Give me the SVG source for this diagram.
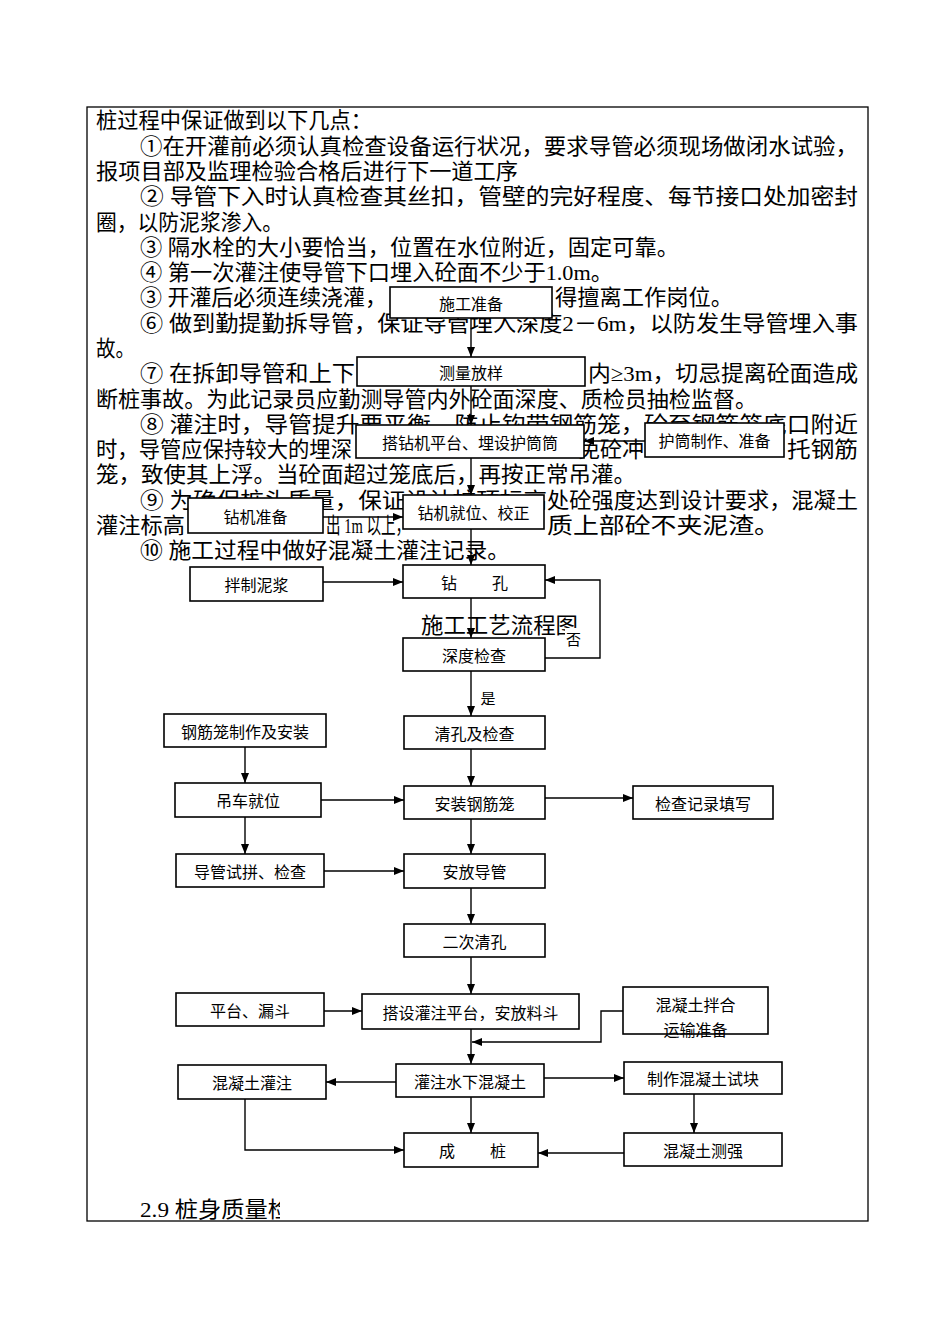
<svg xmlns="http://www.w3.org/2000/svg" width="950" height="1344" viewBox="0 0 950 1344">
<defs>
<marker id="ah" markerUnits="userSpaceOnUse" markerWidth="10" markerHeight="8" refX="10" refY="4" orient="auto">
<path d="M0,0 L10,4 L0,8 z" fill="#000"/>
</marker>
<clipPath id="clipEnd"><rect x="0" y="1190" width="280" height="40"/></clipPath>
</defs>
<style>
.t{font-family:"Liberation Serif","Noto Sans CJK SC",serif;font-size:22px;fill:#000}
.b{fill:#fff;stroke:#000;stroke-width:1.6}
.bl{font-family:"Noto Sans CJK SC",sans-serif;font-size:16px;fill:#000;text-anchor:middle;dominant-baseline:central}
.c{stroke:#000;stroke-width:1.4;fill:none;marker-end:url(#ah)}
.lab{font-family:"Noto Sans CJK SC",sans-serif;font-size:15px;fill:#000;text-anchor:middle;dominant-baseline:central}
</style>
<rect width="950" height="1344" fill="#fff"/>
<rect x="87" y="107" width="781" height="1114" fill="none" stroke="#000" stroke-width="1.3"/>

<g id="paragraph">
<text class="t" x="96" y="128" textLength="276" lengthAdjust="spacingAndGlyphs">桩过程中保证做到以下几点：</text>
<text class="t" x="140" y="153.5" textLength="718" lengthAdjust="spacingAndGlyphs">①在开灌前必须认真检查设备运行状况，要求导管必须现场做闭水试验，</text>
<text class="t" x="96" y="179" textLength="422" lengthAdjust="spacingAndGlyphs">报项目部及监理检验合格后进行下一道工序</text>
<text class="t" x="140" y="204" textLength="718" lengthAdjust="spacingAndGlyphs">② 导管下入时认真检查其丝扣，管壁的完好程度、每节接口处加密封</text>
<text class="t" x="96" y="229.5" textLength="187" lengthAdjust="spacingAndGlyphs">圈，以防泥浆渗入。</text>
<text class="t" x="140" y="254.5" textLength="539" lengthAdjust="spacingAndGlyphs">③ 隔水栓的大小要恰当，位置在水位附近，固定可靠。</text>
<text class="t" x="140" y="280" textLength="473" lengthAdjust="spacingAndGlyphs">④ 第一次灌注使导管下口埋入砼面不少于1.0m。</text>
<text class="t" x="140" y="305" textLength="247" lengthAdjust="spacingAndGlyphs">③ 开灌后必须连续浇灌，</text>
<text class="t" x="555" y="305" textLength="178" lengthAdjust="spacingAndGlyphs">得擅离工作岗位。</text>
<text class="t" x="140" y="330.5" textLength="718" lengthAdjust="spacingAndGlyphs">⑥ 做到勤提勤拆导管，保证导管埋入深度2－6m，以防发生导管埋入事</text>
<text class="t" x="96" y="355.5" textLength="39" lengthAdjust="spacingAndGlyphs">故。</text>
<text class="t" x="140" y="381" textLength="215" lengthAdjust="spacingAndGlyphs">⑦ 在拆卸导管和上下</text>
<text class="t" x="588" y="381" textLength="270" lengthAdjust="spacingAndGlyphs">内≥3m，切忌提离砼面造成</text>
<text class="t" x="96" y="406.5" textLength="661" lengthAdjust="spacingAndGlyphs">断桩事故。为此记录员应勤测导管内外砼面深度、质检员抽检监督。</text>
<text class="t" x="140" y="431.5" textLength="718" lengthAdjust="spacingAndGlyphs">⑧ 灌注时，导管提升要平衡，防止钩带钢筋笼，砼至钢筋笼底口附近</text>
<text class="t" x="96" y="457" textLength="256" lengthAdjust="spacingAndGlyphs">时，导管应保持较大的埋深</text>
<text class="t" x="578" y="457" textLength="66" lengthAdjust="spacingAndGlyphs">免砼冲</text>
<text class="t" x="787" y="457" textLength="71" lengthAdjust="spacingAndGlyphs">托钢筋</text>
<text class="t" x="96" y="482" textLength="540" lengthAdjust="spacingAndGlyphs">笼，致使其上浮。当砼面超过笼底后，再按正常吊灌。</text>
<text class="t" x="140" y="507.5" textLength="407" lengthAdjust="spacingAndGlyphs">⑨ 为确保桩头质量，保证设计桩顶标高</text>
<text class="t" x="547" y="507.5" textLength="311" lengthAdjust="spacingAndGlyphs">处砼强度达到设计要求，混凝土</text>
<text class="t" x="96" y="533" textLength="89" lengthAdjust="spacingAndGlyphs">灌注标高</text>
<text class="t" x="326" y="533" textLength="84" lengthAdjust="spacingAndGlyphs">出 1m 以上，</text>
<text class="t" x="547" y="533" textLength="233" lengthAdjust="spacingAndGlyphs">质上部砼不夹泥渣。</text>
<text class="t" x="140" y="558" textLength="370" lengthAdjust="spacingAndGlyphs">⑩ 施工过程中做好混凝土灌注记录。</text>
<text class="t" x="421" y="633" textLength="157" lengthAdjust="spacingAndGlyphs">施工工艺流程图</text>
<text class="t" x="140" y="1217" textLength="151" lengthAdjust="spacingAndGlyphs" clip-path="url(#clipEnd)">2.9 桩身质量检</text>
</g>

<g id="n1"><rect class="b" x="390" y="287" width="162" height="31"/><text class="bl" x="471" y="302.5">施工准备</text></g>
<g id="n2"><rect class="b" x="357" y="357" width="228" height="29"/><text class="bl" x="471" y="371.5">测量放样</text></g>
<g id="n3"><rect class="b" x="356" y="425" width="228" height="33"/><text class="bl" x="470" y="441.5">搭钻机平台、埋设护筒筒</text></g>
<g id="n4"><rect class="b" x="645" y="423" width="139" height="34"/><text class="bl" x="714.5" y="440">护筒制作、准备</text></g>
<g id="n5"><rect class="b" x="403" y="495" width="141" height="34"/><text class="bl" x="473.5" y="512">钻机就位、校正</text></g>
<g id="n6"><rect class="b" x="188" y="498" width="135" height="35"/><text class="bl" x="255.5" y="515.5">钻机准备</text></g>
<g id="n7"><rect class="b" x="403" y="565" width="142" height="33"/><text class="bl" x="449" y="581.5">钻</text><text class="bl" x="500" y="581.5">孔</text></g>
<g id="n8"><rect class="b" x="190" y="567" width="133" height="34"/><text class="bl" x="256.5" y="584">拌制泥浆</text></g>
<g id="n9"><rect class="b" x="403" y="638" width="142" height="33"/><text class="bl" x="474" y="654.5">深度检查</text></g>
<g id="n10"><rect class="b" x="404" y="716" width="141" height="33"/><text class="bl" x="474.5" y="732.5">清孔及检查</text></g>
<g id="n11"><rect class="b" x="164" y="714" width="162" height="33"/><text class="bl" x="245" y="730.5">钢筋笼制作及安装</text></g>
<g id="n12"><rect class="b" x="175" y="783" width="146" height="34"/><text class="bl" x="248" y="800">吊车就位</text></g>
<g id="n13"><rect class="b" x="404" y="786" width="141" height="33"/><text class="bl" x="474.5" y="802.5">安装钢筋笼</text></g>
<g id="n14"><rect class="b" x="633" y="786" width="140" height="33"/><text class="bl" x="703" y="802.5">检查记录填写</text></g>
<g id="n15"><rect class="b" x="176" y="854" width="148" height="33"/><text class="bl" x="250" y="870.5">导管试拼、检查</text></g>
<g id="n16"><rect class="b" x="404" y="854" width="141" height="34"/><text class="bl" x="474.5" y="871">安放导管</text></g>
<g id="n17"><rect class="b" x="404" y="924" width="141" height="33"/><text class="bl" x="474.5" y="940.5">二次清孔</text></g>
<g id="n18"><rect class="b" x="176" y="993" width="148" height="33"/><text class="bl" x="250" y="1009.5">平台、漏斗</text></g>
<g id="n19"><rect class="b" x="362" y="994" width="217" height="35"/><text class="bl" x="470.5" y="1011.5">搭设灌注平台，安放料斗</text></g>
<g id="n20"><rect class="b" x="623" y="987" width="145" height="47"/><text class="bl" x="695.5" y="1004">混凝土拌合</text><text class="bl" x="695.5" y="1029">运输准备</text></g>
<g id="n21"><rect class="b" x="178" y="1065" width="148" height="34"/><text class="bl" x="252" y="1082">混凝土灌注</text></g>
<g id="n22"><rect class="b" x="396" y="1064" width="148" height="33"/><text class="bl" x="470" y="1080.5">灌注水下混凝土</text></g>
<g id="n23"><rect class="b" x="624" y="1062" width="158" height="32"/><text class="bl" x="703" y="1078">制作混凝土试块</text></g>
<g id="n24"><rect class="b" x="404" y="1133" width="134" height="34"/><text class="bl" x="447" y="1150">成</text><text class="bl" x="498" y="1150">桩</text></g>
<g id="n25"><rect class="b" x="624" y="1133" width="158" height="33"/><text class="bl" x="703" y="1149.5">混凝土测强</text></g>

<g id="connectors">
<path class="c" d="M471,318 V357"/>
<path class="c" d="M471,386 V425"/>
<path class="c" d="M645,441 H584"/>
<path class="c" d="M471,458 V495"/>
<path class="c" d="M323,517 H403"/>
<path class="c" d="M471,529 V565"/>
<path class="c" d="M323,582 H403"/>
<path class="c" d="M471,598 V638"/>
<path class="c" d="M545,658 H600 V580 H545"/>
<path class="c" d="M471,671 V716"/>
<path class="c" d="M471,749 V786"/>
<path class="c" d="M245,747 V783"/>
<path class="c" d="M321,800 H404"/>
<path class="c" d="M545,798 H633"/>
<path class="c" d="M245,817 V854"/>
<path class="c" d="M324,871 H404"/>
<path class="c" d="M471,819 V854"/>
<path class="c" d="M471,888 V924"/>
<path class="c" d="M471,957 V994"/>
<path class="c" d="M324,1011 H362"/>
<path class="c" d="M623,1011 H601 V1042 H472"/>
<path class="c" d="M471,1029 V1064"/>
<path class="c" d="M396,1082 H326"/>
<path class="c" d="M544,1078 H624"/>
<path class="c" d="M471,1097 V1133"/>
<path class="c" d="M245,1099 V1150 H404"/>
<path class="c" d="M694,1094 V1133"/>
<path class="c" d="M624,1153 H538"/>
</g>

<g id="labels">
<rect x="565" y="628" width="18" height="20" fill="#fff"/>
<text class="lab" x="573.5" y="638">否</text>
<text class="lab" x="488" y="697">是</text>
</g>
</svg>
